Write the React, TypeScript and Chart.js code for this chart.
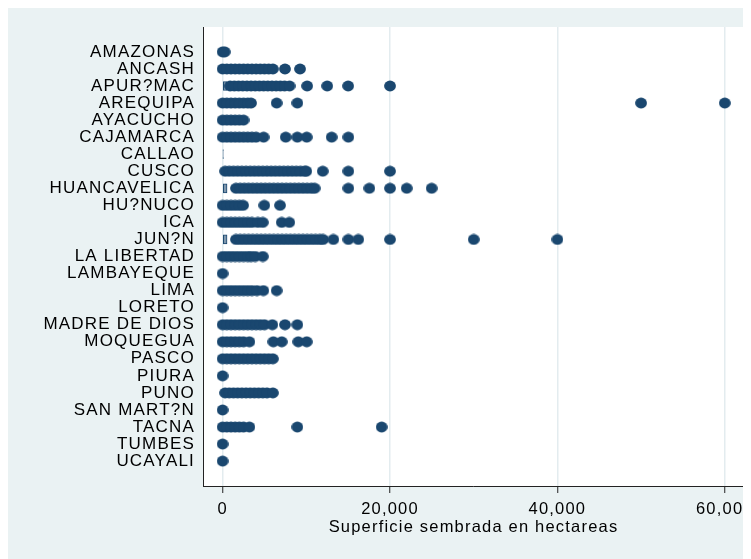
import { useEffect, useRef } from "react";
import { Chart, registerables } from "chart.js";

Chart.register(...registerables);

const categories = [
  "AMAZONAS", "ANCASH", "APUR?MAC", "AREQUIPA", "AYACUCHO", "CAJAMARCA", "CALLAO",
  "CUSCO", "HUANCAVELICA", "HU?NUCO", "ICA", "JUN?N", "LA LIBERTAD", "LAMBAYEQUE",
  "LIMA", "LORETO", "MADRE DE DIOS", "MOQUEGUA", "PASCO", "PIURA", "PUNO",
  "SAN MART?N", "TACNA", "TUMBES", "UCAYALI",
];

const xTicks = [0, 20000, 40000, 60000];
const xTitle = "Superficie sembrada en hectareas";

// Observed values (hectares) shown as markers, per department
const amazonas = [0, 250];
const ancash = [0, 500, 1000, 1500, 2000, 2500, 3000, 3500, 4000, 4500, 5000, 5500, 6000, 7450, 9250];
const apurimac = [900, 1400, 1900, 2400, 2900, 3400, 3900, 4400, 4900, 5400, 5900, 6400, 6900, 7400, 8000, 10100, 12500, 15000, 20000];
const arequipa = [0, 500, 1000, 1500, 2000, 2500, 3000, 3400, 6460, 8930, 50000, 60000];
const ayacucho = [0, 500, 1000, 1500, 2000, 2500];
const cajamarca = [0, 500, 1000, 1500, 2000, 2500, 3000, 3500, 4000, 4900, 7540, 8930, 10050, 13030, 15020];
const callao: number[] = [];
const cusco = [300, 800, 1300, 1800, 2300, 2800, 3300, 3800, 4300, 4800, 5300, 5800, 6300, 6800, 7300, 7800, 8300, 8800, 9300, 9800, 10000, 11960, 15020, 20000];
const huancavelica = [1600, 2100, 2600, 3100, 3600, 4100, 4600, 5100, 5600, 6100, 6600, 7100, 7600, 8100, 8600, 9100, 9600, 10100, 10600, 11000, 15020, 17530, 20000, 22000, 24980];
const huanuco = [0, 500, 1000, 1500, 2000, 2450, 4980, 6860];
const ica = [0, 500, 1000, 1500, 2000, 2500, 3000, 3500, 4200, 4800, 7060, 7970];
const junin = [1600, 2100, 2600, 3100, 3600, 4100, 4600, 5100, 5600, 6100, 6600, 7100, 7600, 8100, 8600, 9100, 9600, 10100, 10600, 11100, 11600, 12000, 13230, 15020, 16210, 20000, 30000, 40000];
const laLibertad = [0, 500, 1000, 1500, 2000, 2500, 3000, 3400, 3900, 4800];
const lambayeque = [0];
const lima = [0, 500, 1000, 1500, 2000, 2500, 3000, 3500, 4100, 4870, 6460];
const loreto = [0];
const madreDeDios = [0, 500, 1000, 1500, 2000, 2500, 3000, 3500, 4000, 4500, 5000, 5940, 7450, 8930];
const moquegua = [0, 500, 1000, 1500, 2000, 2500, 3200, 6060, 7060, 9040, 10050];
const pasco = [0, 500, 1000, 1500, 2000, 2500, 3000, 3500, 4000, 4500, 5000, 5500, 6000];
const piura = [0];
const puno = [300, 800, 1300, 1800, 2300, 2800, 3300, 3800, 4300, 4800, 5300, 6000];
const sanMartin = [0];
const tacna = [0, 500, 1000, 1500, 2000, 2500, 3200, 8930, 19000];
const tumbes = [0];
const ucayali = [0];

const regionValues = [
  amazonas, ancash, apurimac, arequipa, ayacucho, cajamarca, callao, cusco,
  huancavelica, huanuco, ica, junin, laLibertad, lambayeque, lima, loreto,
  madreDeDios, moquegua, pasco, piura, puno, sanMartin, tacna, tumbes, ucayali,
];

// Visible interquartile boxes
const boxRows = ["APUR?MAC", "CALLAO", "HUANCAVELICA", "JUN?N"];
const boxLow = [0, 0, 0, 0];
const boxHigh = [500, 40, 530, 530];

const NAVY = "#1a476f";
const BG = "#eaf2f3";
const GRID = "#e3ecef";
const BOXFILL = "#7f97ad";
const SPACING = "1.2px";

export default function App() {
  const ref = useRef<HTMLCanvasElement>(null);

  useEffect(() => {
    const canvas = ref.current;
    if (!canvas) return;

    const marker = document.createElement("canvas");
    marker.width = 12;
    marker.height = 12;
    const mctx = marker.getContext("2d")!;
    mctx.fillStyle = NAVY;
    mctx.beginPath();
    mctx.ellipse(6, 6, 5.9, 5.4, 0, 0, Math.PI * 2);
    mctx.fill();

    const points: { x: number; y: number }[] = [];
    regionValues.forEach((vals, i) => vals.forEach((v) => points.push({ x: v, y: i })));
    const boxes = boxRows.map((name, k) => ({ x: [boxLow[k], boxHigh[k]], y: categories.indexOf(name) }));

    const family = "'Liberation Sans', Arial, sans-serif";
    const yFont = { family, size: 17 };
    const xFont = { family, size: 16.5 };

    const bgPlugin = {
      id: "stataBg",
      beforeUpdate(chart: any) {
        (chart.ctx as any).letterSpacing = SPACING;
      },
      beforeDraw(chart: any) {
        const { ctx, chartArea, width, height } = chart;
        ctx.save();
        ctx.fillStyle = BG;
        ctx.fillRect(0, 0, width, height);
        ctx.fillStyle = "#ffffff";
        ctx.fillRect(chartArea.left, chartArea.top, chartArea.right - chartArea.left, chartArea.bottom - chartArea.top);
        ctx.restore();
        ctx.letterSpacing = SPACING;
      },
    };

    const chart = new Chart(canvas, {
      type: "scatter",
      data: {
        datasets: [
          {
            type: "bar",
            indexAxis: "y",
            data: boxes as any,
            backgroundColor: BOXFILL,
            borderColor: NAVY,
            borderWidth: 1,
            borderSkipped: false,
            barThickness: 9,
            order: 2,
          } as any,
          {
            type: "scatter",
            data: points,
            pointStyle: marker as any,
            pointRadius: 6,
            pointHoverRadius: 6,
            backgroundColor: NAVY,
            borderWidth: 0,
            order: 1,
          } as any,
        ],
      },
      options: {
        responsive: false,
        animation: false,
        devicePixelRatio: 1,
        events: [],
        layout: { padding: { top: 19, left: 0, right: 7, bottom: 0 } },
        plugins: { legend: { display: false }, tooltip: { enabled: false } },
        scales: {
          x: {
            type: "linear",
            min: -2342,
            max: 62294,
            offset: false,
            beginAtZero: false,
            afterBuildTicks: (s: any) => {
              s.ticks = xTicks.map((v) => ({ value: v }));
            },
            afterFit: (s: any) => {
              s.height = 73;
              s.paddingLeft = 0;
              s.paddingRight = 0;
            },
            grid: { color: GRID, lineWidth: 1.5, tickColor: "#222", tickLength: 7, tickWidth: 1, drawTicks: true, offset: false },
            border: { display: true, color: "#222", width: 1 },
            ticks: {
              color: "#000",
              font: xFont,
              padding: 6.6,
              autoSkip: false,
              maxRotation: 0,
              callback: (v: any) => Number(v).toLocaleString("en-US"),
            },
            title: { display: true, text: xTitle, color: "#000", font: xFont, padding: { top: 0, bottom: 22 } },
          },
          y: {
            type: "linear",
            reverse: true,
            min: -1.46,
            max: 25.46,
            offset: false,
            beginAtZero: false,
            afterBuildTicks: (s: any) => {
              s.ticks = categories.map((_, i) => ({ value: i }));
            },
            afterFit: (s: any) => {
              s.width = 195;
              s.paddingTop = 0;
              s.paddingBottom = 0;
            },
            grid: { display: false, drawTicks: false, offset: false },
            border: { display: true, color: "#222", width: 1 },
            ticks: {
              color: "#000",
              font: yFont,
              padding: 8,
              autoSkip: false,
              callback: (v: any) => categories[Number(v)] ?? "",
            },
          },
        },
      } as any,
      plugins: [bgPlugin as any],
    });

    return () => chart.destroy();
  }, []);

  return (
    <div style={{ width: 743, height: 551, overflow: "hidden" }}>
      <canvas ref={ref} width={743} height={551} style={{ display: "block" }} />
    </div>
  );
}
